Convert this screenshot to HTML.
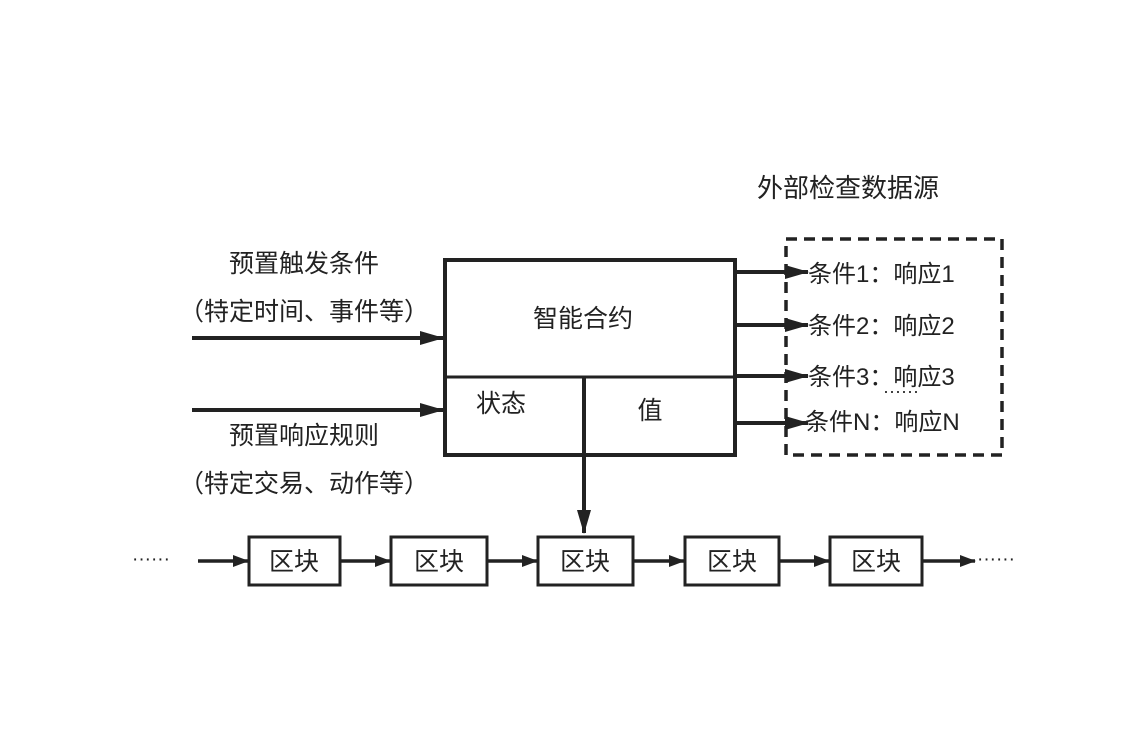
<!DOCTYPE html>
<html><head><meta charset="utf-8"><style>
body{margin:0;background:#fff;}
svg text{font-family:"Liberation Sans","Noto Sans CJK SC",sans-serif;fill:#222;}
</style></head><body>
<svg width="1136" height="732" viewBox="0 0 1136 732" xmlns="http://www.w3.org/2000/svg">
<defs><marker id="a" markerWidth="16" markerHeight="12" refX="15" refY="6" orient="auto" markerUnits="userSpaceOnUse"><path d="M0,0 L16,6 L0,12 Z" fill="#222"/></marker>
<marker id="b" markerWidth="24" markerHeight="14" refX="23" refY="7" orient="auto" markerUnits="userSpaceOnUse"><path d="M0,0 L24,7 L0,14 Z" fill="#222"/></marker></defs>
<g font-size="25">
<text x="304" y="272" text-anchor="middle">预置触发条件</text>
<text x="304" y="320" text-anchor="middle">（特定时间、事件等）</text>
<text x="304" y="444" text-anchor="middle">预置响应规则</text>
<text x="304" y="492" text-anchor="middle">（特定交易、动作等）</text>
<text x="848" y="197" text-anchor="middle" font-size="26">外部检查数据源</text>
<text x="583" y="327" text-anchor="middle">智能合约</text>
<text x="501" y="412" text-anchor="middle">状态</text>
<text x="650" y="419" text-anchor="middle">值</text>
</g>
<g font-size="24">
<text x="808" y="282">条件1：响应1</text>
<text x="808" y="334">条件2：响应2</text>
<text x="808" y="385">条件3：响应3</text>
<text x="805" y="430">条件N：响应N</text>
<text x="883" y="397" font-size="18">······</text>
</g>
<rect x="445" y="260" width="290" height="195" fill="none" stroke="#222" stroke-width="4"/>
<line x1="445" y1="377" x2="735" y2="377" stroke="#222" stroke-width="3"/>
<rect x="786" y="239" width="216" height="216" fill="none" stroke="#222" stroke-width="3.5" stroke-dasharray="11,7"/>
<g stroke="#222" stroke-width="4" fill="none">
<line x1="192" y1="338" x2="443" y2="338" marker-end="url(#b)"/>
<line x1="192" y1="410" x2="443" y2="410" marker-end="url(#b)"/>
<line x1="736" y1="272" x2="808" y2="272" marker-end="url(#b)"/>
<line x1="736" y1="325" x2="808" y2="325" marker-end="url(#b)"/>
<line x1="736" y1="376" x2="808" y2="376" marker-end="url(#b)"/>
<line x1="736" y1="423" x2="808" y2="423" marker-end="url(#b)"/>
<line x1="584" y1="377" x2="584" y2="533" marker-end="url(#b)"/>
</g>
<g stroke="#222" stroke-width="3" fill="#fff">
<rect x="249" y="537" width="91" height="48"/>
<rect x="391" y="537" width="96" height="48"/>
<rect x="538" y="537" width="95" height="48"/>
<rect x="685" y="537" width="94" height="48"/>
<rect x="830" y="537" width="92" height="48"/>
</g>
<g stroke="#222" stroke-width="3.5">
<line x1="198" y1="561" x2="248" y2="561" marker-end="url(#a)"/>
<line x1="340" y1="561" x2="390" y2="561" marker-end="url(#a)"/>
<line x1="487" y1="561" x2="537" y2="561" marker-end="url(#a)"/>
<line x1="633" y1="561" x2="684" y2="561" marker-end="url(#a)"/>
<line x1="779" y1="561" x2="829" y2="561" marker-end="url(#a)"/>
<line x1="922" y1="561" x2="975" y2="561" marker-end="url(#a)"/>
</g>
<g font-size="25">
<text x="294" y="570" text-anchor="middle">区块</text>
<text x="439" y="570" text-anchor="middle">区块</text>
<text x="585" y="570" text-anchor="middle">区块</text>
<text x="732" y="570" text-anchor="middle">区块</text>
<text x="876" y="570" text-anchor="middle">区块</text>
<text x="132" y="565" font-size="19">······</text>
<text x="977" y="565" font-size="19">······</text>
</g>
</svg>
</body></html>
